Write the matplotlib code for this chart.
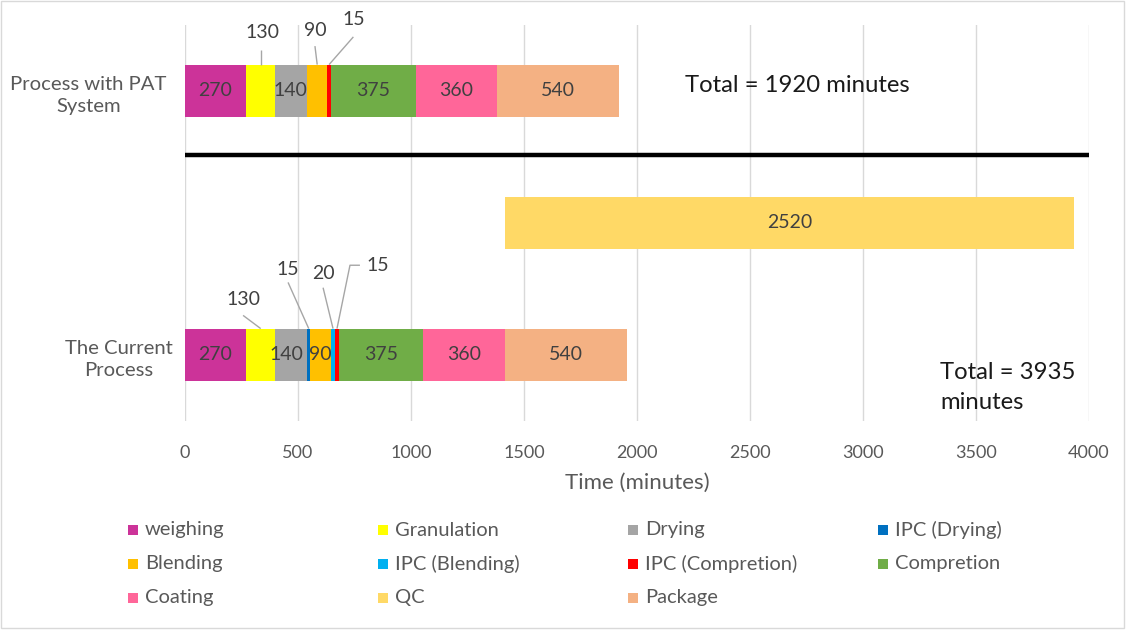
import matplotlib
matplotlib.use("Agg")
import matplotlib.pyplot as plt
from matplotlib.patches import Rectangle
from matplotlib.transforms import ScaledTranslation

# Stages of the tablet manufacturing process and their colours
stages = ["weighing", "Granulation", "Drying", "IPC (Drying)", "Blending",
          "IPC (Blending)", "IPC (Compretion)", "Compretion", "Coating", "QC",
          "Package"]
colors = ["#CC3399", "#FFFF00", "#A5A5A5", "#0070C0", "#FFC000",
          "#00B0F0", "#FF0000", "#70AD47", "#FF6699", "#FFD966", "#F4B183"]

row_labels = ["The Current\nProcess", "", "Process with PAT\nSystem"]

# Minutes spent in each stage (0 = stage not present in that process)
current = [270, 130, 140, 15, 90, 20, 15, 375, 360, 0, 540]
pat = [270, 130, 140, 0, 90, 0, 15, 375, 360, 0, 540]
# Off-line QC of the current process runs after coating, in parallel with packaging
qc_current = 2520

x_ticks = [0, 500, 1000, 1500, 2000, 2500, 3000, 3500, 4000]

FONT = "Lato"
TXT = "#404040"
GRAY = "#595959"
plt.rcParams["font.family"] = [FONT, "DejaVu Sans"]

fig = plt.figure(figsize=(11.26, 6.30), dpi=100)
ax = fig.add_axes([185 / 1126, 1 - 421 / 630, 904 / 1126, 396 / 630])

BAR_H = 0.40
Y_CUR, Y_QC, Y_PAT = 0, 1, 2
VAL_FS = 14

# callout label positions for narrow segments: (row, stage) -> (text xy, leader path)
callouts = {
    (Y_PAT, 1): ((341, 2.44), [(335, 2.31)]),
    (Y_PAT, 4): ((575, 2.46), [(575, 2.34)]),
    (Y_PAT, 6): ((748, 2.54), [(745, 2.41)]),
    (Y_CUR, 1): ((257, 0.424), [(257, 0.30)]),
    (Y_CUR, 3): ((456, 0.644), [(456, 0.55)]),
    (Y_CUR, 5): ((611, 0.62), [(611, 0.51)]),
    (Y_CUR, 6): ((854, 0.68), [(774, 0.68), (730, 0.68)]),
}
# small horizontal nudges for inside labels
nudges = {(Y_CUR, 2): -22, (Y_PAT, 2): -4}


def draw_row(y, values):
    left = 0
    for i, v in enumerate(values):
        if v <= 0:
            continue
        ax.barh(y, v, left=left, height=BAR_H, color=colors[i], zorder=3,
                linewidth=0)
        cx = left + v / 2
        key = (y, i)
        if key in callouts:
            (tx, ty), path = callouts[key]
            ax.text(tx, ty, f"{v}", ha="center", va="center", fontsize=VAL_FS,
                    color=TXT, zorder=5)
            pts = path + [(cx, y + BAR_H / 2)]
            ax.plot([p[0] for p in pts], [p[1] for p in pts], color="#A6A6A6",
                    lw=1, zorder=4, solid_capstyle="butt")
        else:
            ax.text(cx + nudges.get(key, 0), y, f"{v}", ha="center",
                    va="center", fontsize=VAL_FS, color=TXT, zorder=5)
        left += v
    return left


draw_row(Y_PAT, pat)
draw_row(Y_CUR, current)

# QC bar for the current process, starting when coating ends
qc_idx = stages.index("QC")
qc_start = sum(current[:stages.index("Coating") + 1])
ax.barh(Y_QC, qc_current, left=qc_start, height=BAR_H, color=colors[qc_idx],
        zorder=3, linewidth=0)
ax.text(qc_start + qc_current / 2, Y_QC, f"{qc_current}", ha="center",
        va="center", fontsize=VAL_FS, color=TXT, zorder=5)

total_pat = sum(pat)
total_current = qc_start + qc_current

# separator between the two processes
ax.plot([0, 4000], [1.515, 1.515], color="black", lw=3.2, zorder=4,
        solid_capstyle="butt")

ax.text(2212, 2.045, f"Total = {total_pat} minutes", ha="left", va="center",
        fontsize=17.2, color="#1a1a1a", zorder=5)
ax.text(3341, -0.245, f"Total = {total_current}\nminutes", ha="left",
        va="center", fontsize=17.2, color="#1a1a1a", linespacing=1.55, zorder=5)

ax.set_xlim(0, 4000)
ax.set_ylim(-0.5, 2.5)
ax.set_xticks(x_ticks)
ax.set_xticklabels([str(t) for t in x_ticks], fontsize=13, color=GRAY)
ax.set_yticks([Y_CUR, Y_QC, Y_PAT])
ylabels = ax.set_yticklabels(row_labels, fontsize=14.6, color=GRAY,
                             multialignment="center", linespacing=1.4)
ax.tick_params(axis="both", length=0)
ax.tick_params(axis="x", pad=17)
ax.tick_params(axis="y", pad=9)
# the two-line PAT label sits a little further from the axis
ylabels[2].set_transform(ylabels[2].get_transform()
                         + ScaledTranslation(-0.06, 0, fig.dpi_scale_trans))
ax.grid(axis="x", color="#D9D9D9", lw=1, zorder=0)
ax.set_axisbelow(True)
for s in ax.spines.values():
    s.set_visible(False)
ax.set_xlabel("Time (minutes)", fontsize=16, color=GRAY, labelpad=9)

# legend laid out as a 4-column grid
col_x = [128, 378, 628, 878]
row_y = [530, 564, 598]
for k, (name, c) in enumerate(zip(stages, colors)):
    r, col = divmod(k, 4)
    x0, y0 = col_x[col], row_y[r]
    fig.patches.append(Rectangle((x0 / 1126, 1 - (y0 + 5) / 630), 10 / 1126,
                                 10 / 630, transform=fig.transFigure,
                                 facecolor=c, edgecolor="none"))
    fig.text((x0 + 17) / 1126, 1 - y0 / 630, name, ha="left", va="center",
             fontsize=14.5, color=GRAY)

# light frame around the chart
fig.patches.append(Rectangle((1 / 1126, 2 / 630), 1123 / 1126, 627 / 630,
                             transform=fig.transFigure, fill=False,
                             edgecolor="#D9D9D9", lw=1))

fig.savefig("out.png", dpi=100)
